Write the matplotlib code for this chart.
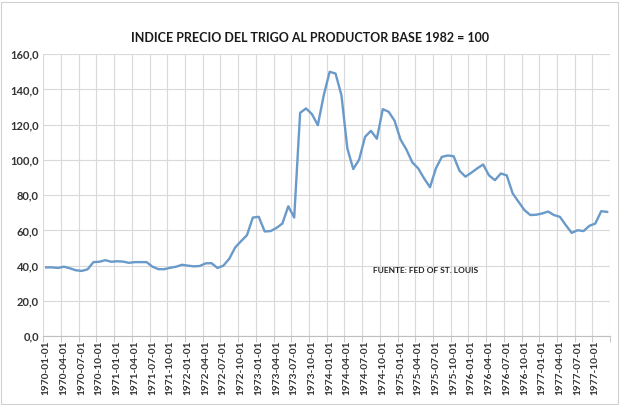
import numpy as np
import pandas as pd
import matplotlib
matplotlib.use("Agg")
import matplotlib.pyplot as plt
from matplotlib.patches import Rectangle

TITULO = "INDICE PRECIO DEL TRIGO AL PRODUCTOR BASE 1982 = 100"
FUENTE = "FUENTE: FED OF ST. LOUIS"

# indice mensual 1970-01 .. 1977-12
meses = pd.date_range("1970-01-01", "1977-12-01", freq="MS")
indice = [
    39.0, 39.0, 38.7, 39.4, 38.5, 37.4, 37.0, 37.9, 42.0, 42.2, 43.1, 42.2,
    42.5, 42.3, 41.6, 42.0, 42.0, 42.0, 39.4, 38.0, 38.0, 38.8, 39.4, 40.5,
    40.0, 39.6, 39.8, 41.3, 41.4, 38.7, 40.0, 43.9, 50.3, 53.9, 57.3, 67.3,
    67.7, 59.4, 59.6, 61.4, 63.9, 73.7, 67.3, 126.7, 129.2, 126.0, 119.7, 136.6,
    150.0, 149.0, 136.7, 106.5, 94.8, 100.2, 113.1, 116.5, 112.0, 128.8, 127.3, 122.2,
    111.6, 105.9, 98.6, 95.2, 89.5, 84.5, 95.2, 101.7, 102.5, 102.1, 93.8, 90.5,
    92.7, 95.2, 97.4, 91.2, 88.5, 92.3, 91.2, 81.0, 76.2, 71.5, 68.7, 68.9,
    69.6, 70.7, 68.7, 67.7, 63.0, 58.6, 60.1, 59.6, 62.6, 63.9, 70.9, 70.5,
]
etiquetas = [m.strftime("%Y-%m-%d") for m in meses]


def main():
    plt.rcParams["font.family"] = ["Lato", "DejaVu Sans"]
    fig = plt.figure(figsize=(6.2, 4.05), dpi=100)
    ax = fig.add_axes([0.0698, 0.170, 0.9142, 0.6963])

    x = np.arange(len(indice))
    ax.plot(x, indice, color="#6a9ac9", linewidth=1.7, solid_joinstyle="round")

    ax.set_xlim(-0.5, len(indice) - 0.5)
    ax.set_ylim(0, 160)
    ax.set_yticks(np.arange(0, 161, 20))
    ax.set_yticklabels([f"{v:.1f}".replace(".", ",") for v in range(0, 161, 20)],
                       fontsize=8, fontweight="bold", color="#333333")

    ax.set_xticks(x[::3])
    ax.set_xticklabels(etiquetas[::3], rotation=90, fontsize=7.3,
                       fontweight="bold", color="#333333")
    ax.set_xticks(np.arange(-0.5, len(indice), 3), minor=True)
    ax.tick_params(axis="both", which="major", length=0, pad=3)
    ax.tick_params(axis="x", which="minor", length=4, color="#bfbfbf")

    ax.grid(axis="y", which="major", color="#d9d9d9", linewidth=0.8)
    ax.grid(axis="x", which="minor", color="#d9d9d9", linewidth=0.8)
    ax.set_axisbelow(True)
    for lado in ["top", "right", "left"]:
        ax.spines[lado].set_visible(False)
    ax.spines["bottom"].set_color("#bfbfbf")

    fig.text(0.5, 0.905, TITULO, ha="center", va="center",
             fontsize=9, fontweight="bold", color="#1a1a1a")
    ax.text(55.4, 37.4, FUENTE, ha="left", va="center",
            fontsize=6, fontweight="bold", color="#222222")

    fig.patches.append(Rectangle((0.002, 0.003), 0.995, 0.993, transform=fig.transFigure,
                                 fill=False, edgecolor="#d0d0d0", linewidth=0.8))
    fig.savefig("out.png", dpi=100)
    plt.close(fig)


if __name__ == "__main__":
    main()
